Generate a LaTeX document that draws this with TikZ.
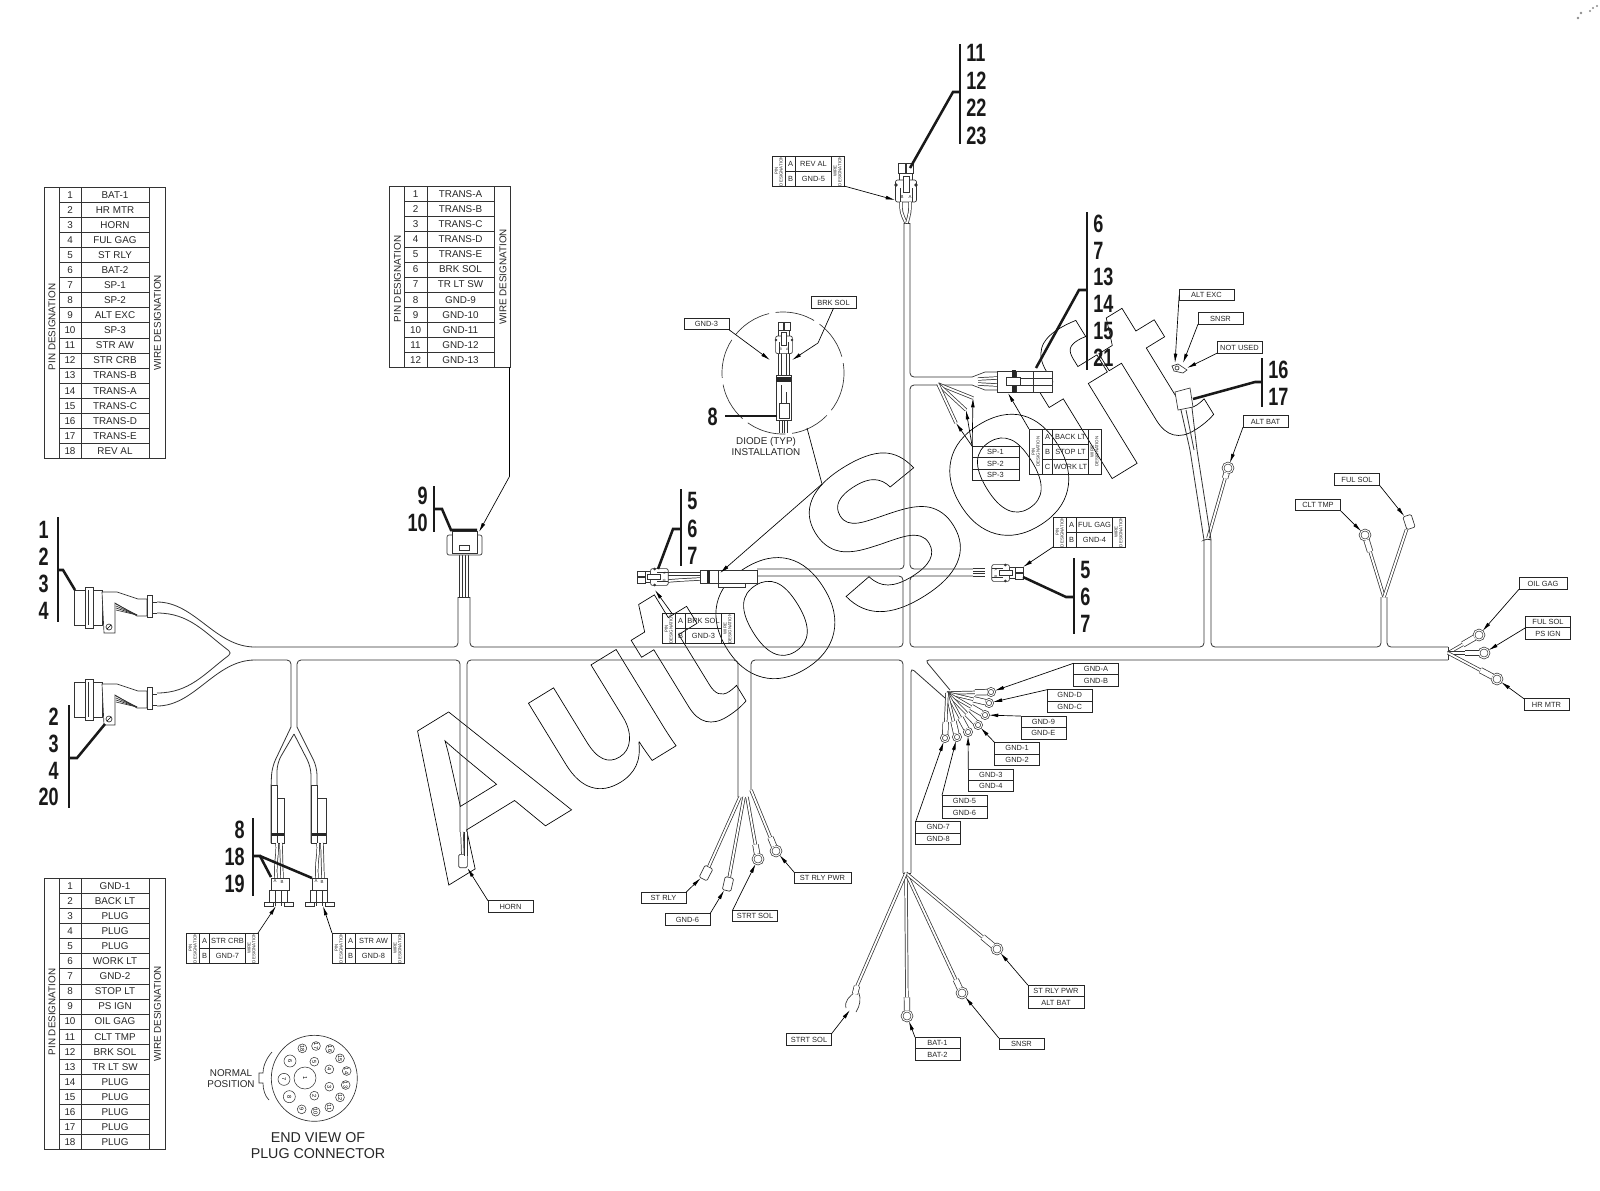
\documentclass[tikz,border=0pt]{standalone}
\usepackage{fontspec}
\setmainfont{Liberation Sans}
\newfontfamily\numfam[FakeStretch=0.72]{Liberation Sans}
\usepackage{tikz}
\usetikzlibrary{positioning,calc,arrows.meta}

\newcommand{\wmfont}{\bfseries\fontsize{161}{161}\selectfont}
\newcommand{\numfont}{\numfam\bfseries\fontsize{18.8}{20}\selectfont}
\newcommand{\tabfont}{\fontsize{7.4}{8.5}\selectfont}
\newcommand{\tagfont}{\fontsize{5.6}{6.5}\selectfont}
\newcommand{\tinyfont}{\fontsize{3.3}{3.6}\selectfont}

\tikzset{
	harn/.style={line width=0.6pt,draw=black!80,rounded corners=3pt},
	part/.style={line width=0.5pt,draw=black!80,fill=white},
	cable/.style={line width=0.55pt,double=white,double distance=1.4pt,draw=black!80},
	barrel/.style={line width=0.55pt,double=white,double distance=3.6pt,draw=black!80},
	bar/.style={line width=1.9pt,draw=black!90},
	lead/.style={line width=0.5pt,-{Latex[length=7pt,width=2.8pt]}},
	tag/.style={draw=black!85,line width=0.5pt,minimum width=33.75pt,minimum height=8.6pt,inner sep=0pt,outer sep=0pt,font=\tagfont,text=black!85},
	ring/.style={circle,draw=black!80,line width=0.5pt,double=white,double distance=0.8pt,fill=white,minimum size=7.5pt,inner sep=0pt},
	smallring/.style={ring,minimum size=5.4pt},
	spade/.style={draw=black!80,line width=0.5pt,fill=white,rounded corners=1pt,minimum width=6.5pt,minimum height=10pt,inner sep=0pt},
	cell/.style={inner sep=0pt,font=\tabfont,text=black!85},
	lettr/.style={inner sep=0pt,font=\tagfont,text=black!85},
	tiny/.style={inner sep=0pt,font=\tinyfont,text=black!85,align=center},
	numl/.style={inner sep=0pt,font=\numfont,anchor=west,text=black!90},
	numr/.style={inner sep=0pt,font=\numfont,anchor=east,text=black!90},
	pin/.style={circle,draw=black!80,line width=0.4pt,minimum size=6.6pt,inner sep=0pt,font=\fontsize{4.2}{4.6}\selectfont,rotate=-90}
}

\newcommand{\pintab}[6]{
	\draw[line width=0.6pt,draw=black!80] (#2,#3) rectangle (#2+121,#3+15.06*#4);
	\draw[line width=0.6pt,draw=black!80] (#2+15,#3) -- (#2+15,#3+15.06*#4);
	\draw[line width=0.6pt,draw=black!80] (#2+37.5,#3) -- (#2+37.5,#3+15.06*#4);
	\draw[line width=0.6pt,draw=black!80] (#2+105,#3) -- (#2+105,#3+15.06*#4);
	\coordinate (#1br) at (#2+120,#3+15.06*#4);
	\node[cell,rotate=90] (#1pin) at (#2+8,#3+7.53*#4+#5) {PIN DESIGNATION};
	\node[cell,rotate=90] (#1wire) at (#2+113.5,#3+7.53*#4) {WIRE DESIGNATION};
	\foreach \w [count=\i] in {#6}{
		\draw[line width=0.6pt,draw=black!80] (#2+15,#3+15.06*\i) -- (#2+105,#3+15.06*\i);
		\node[cell] (#1n\i) at (#2+26,#3+15.06*\i-7.53) {\i};
		\node[cell] (#1w\i) at (#2+71,#3+15.06*\i-7.53) {\w};
	}
}

\newcommand{\plugtab}[5]{
	\draw[line width=0.5pt,draw=black!85] (#1,#2) rectangle (#1+72,#2+15*#4);
	\draw[line width=0.5pt,draw=black!85] (#1+13.5,#2) -- (#1+13.5,#2+15*#4);
	\draw[line width=0.5pt,draw=black!85] (#1+23.5,#2) -- (#1+23.5,#2+15*#4);
	\draw[line width=0.5pt,draw=black!85] (#1+59,#2) -- (#1+59,#2+15*#4);
	\coordinate (#3tl) at (#1,#2);
	\coordinate (#3tr) at (#1+72,#2);
	\coordinate (#3bl) at (#1,#2+15*#4);
	\coordinate (#3br) at (#1+72,#2+15*#4);
	\node[tiny,rotate=90] (#3pin) at (#1+6.7,#2+7.5*#4) {PIN\\DESIGNATION};
	\node[tiny,rotate=90] (#3wire) at (#1+65.5,#2+7.5*#4) {WIRE\\DESIGNATION};
	\foreach \c/\w [count=\i] in {#5}{
		\ifnum\i<#4 \draw[line width=0.5pt,draw=black!85] (#1+13.5,#2+15*\i) -- (#1+59,#2+15*\i);\fi
		\node[lettr] (#3c\i) at (#1+18.5,#2+15*\i-7.5) {\c};
		\node[lettr] (#3w\i) at (#1+41.5,#2+15*\i-7.5) {\w};
	}
}

\newcommand{\plugbody}[4]{
	\begin{scope}[shift={(#1)},#2,transform shape]
		\draw[part] (-7.5,-27) rectangle (-0.5,-17);
		\draw[part] (0.5,-27) rectangle (7.5,-17);
		\draw[part] (-6.5,-17) rectangle (6.5,-10);
		\draw[part,rounded corners=1.5pt] (-10.5,-10) rectangle (10.5,12);
		\draw[part] (-3,-14) rectangle (3,2);
		\draw[part] (-6,-2) -- (-6,12);
		\draw[part] (6,-2) -- (6,12);
		\fill[black!80] (-10,-5) circle (1.8);
		\fill[black!80] (10,-5) circle (1.8);
		\node[tiny] (#4b) at (-4,7) {#3};
		\node[tiny] (#4a) at (4,7) {\ifx#3A B\else A\fi};
	\end{scope}
}

\newcommand{\ringwire}[3]{
	\draw[cable] (#2) -- (#1);
	\draw[barrel] (#1) -- ($(#1)!#3!(#2)$);
}

\begin{document}
\begin{tikzpicture}[x=0.75pt,y=-0.75pt]
	\useasboundingbox (0,0) rectangle (1600,1190);

	\node[rotate=31.5,anchor=base west,inner sep=0pt,font=\wmfont] (autosoft) at (444,888) {\special{pdf:code q 1 Tr 0.5 w}AutoSoft\special{pdf:code Q}};

	\pintab{ta}{44}{187.3}{18}{4}{BAT-1,HR MTR,HORN,FUL GAG,ST RLY,BAT-2,SP-1,SP-2,ALT EXC,SP-3,STR AW,STR CRB,TRANS-B,TRANS-A,TRANS-C,TRANS-D,TRANS-E,REV AL}
	\pintab{tb}{389.5}{186.7}{12}{2}{TRANS-A,TRANS-B,TRANS-C,TRANS-D,TRANS-E,BRK SOL,TR LT SW,GND-9,GND-10,GND-11,GND-12,GND-13}
	\pintab{tc}{44}{878.5}{18}{-2}{GND-1,BACK LT,PLUG,PLUG,PLUG,WORK LT,GND-2,STOP LT,PS IGN,OIL GAG,CLT TMP,BRK SOL,TR LT SW,PLUG,PLUG,PLUG,PLUG,PLUG}

	\plugtab{772}{156}{rv}{2}{A/REV AL,B/GND-5}
	\plugtab{662}{613.5}{bk}{2}{A/BRK SOL,B/GND-3}
	\plugtab{1053}{517}{fl}{2}{A/FUL GAG,B/GND-4}
	\plugtab{1029}{429}{bl}{3}{A/BACK LT,B/STOP LT,C/WORK LT}
	\plugtab{186}{933}{sc}{2}{A/STR CRB,B/GND-7}
	\plugtab{332}{933}{sa}{2}{A/STR AW,B/GND-8}

	\draw[harn] (255,647) -- (458,647) -- (458,597);
	\draw[harn] (470,597) -- (470,647) -- (903,647) -- (903,576) -- (757,576);
	\draw[harn] (757,569) -- (904,569) -- (904,223);
	\draw[harn] (910,223) -- (910,377) -- (972,377);
	\draw[harn] (972,385) -- (910,385) -- (910,569) -- (973,569);
	\draw[harn] (973,576) -- (910,576) -- (910,647) -- (1204,647) -- (1204,540);
	\draw[harn] (1211,540) -- (1211,647) -- (1381,647) -- (1381,597);
	\draw[harn] (1387,597) -- (1387,647) -- (1448,647);
	\draw[harn] (1448,647) -- (1448,660);
	\draw[harn] (1448,660) -- (925,660) -- (950,690);
	\draw[harn] (945,698) -- (911,668) -- (911,873);
	\draw[harn] (903,873) -- (903,660) -- (751,660) -- (751,790);
	\draw[harn] (738,797) -- (738,660) -- (467,660) -- (467,832);
	\draw[harn] (460,832) -- (460,660) -- (297,660) -- (297,727);
	\draw[harn] (291,727) -- (291,660) -- (255,660);
	\draw[harn] (157,602) .. controls (195,602) and (215,647) .. (255,647);
	\draw[harn] (157,613) .. controls (190,613) and (205,633) .. (232,653) .. controls (205,673) and (190,693) .. (157,693);
	\draw[harn] (157,706) .. controls (195,706) and (215,660) .. (255,660);
	\draw[harn] (903,873) -- (911,873);
	\draw[harn] (458,597) -- (470,597);
	\draw[harn] (904,223) -- (910,223);
	\draw[harn] (1204,540) -- (1207,538) -- (1211,540);

	\draw[harn,rounded corners=6pt] (291,727) -- (272,767) -- (271,785) -- (271,843);
	\draw[harn,rounded corners=6pt] (294,734) -- (277,763) -- (277,785) -- (277,798);
	\draw[harn,rounded corners=6pt] (297,727) -- (317,767) -- (317,785) -- (317,798);
	\draw[harn,rounded corners=6pt] (294,734) -- (311,767) -- (311,785) -- (311,843);
	\draw[part] (277,798) rectangle (284,843);
	\draw[part] (317,798) rectangle (326,843);
	\draw[part] (271,785) rectangle (277,843);
	\draw[part] (311,785) rectangle (317,843);
	\fill[black!85] (271,833) rectangle (284,836);
	\fill[black!85] (312,833) rectangle (326,836);
	\draw[cable] (277,843) .. controls (278,855) and (275,860) .. (276,878);
	\draw[cable] (281,843) -- (282,878);
	\draw[cable] (318,843) .. controls (319,855) and (316,860) .. (317,878);
	\draw[cable] (322,843) -- (323,878);
	\draw[part] (271,878) rectangle (289,890);
	\draw[part] (269,890) rectangle (287,902);
	\draw[part] (275,890) -- (275,906);
	\draw[part] (281,890) -- (281,906);
	\draw[part] (264,902) rectangle (273,906);
	\draw[part] (284,902) rectangle (293,906);
	\draw[part] (312,878) rectangle (327,890);
	\draw[part] (310,890) rectangle (327,902);
	\draw[part] (316,890) -- (316,906);
	\draw[part] (322,890) -- (322,906);
	\draw[part] (305,902) rectangle (314,906);
	\draw[part] (325,902) rectangle (334,906);
	\node[tiny] (pla) at (275,881) {A};
	\node[tiny] (plb) at (282,882) {B};
	\node[tiny] (pra) at (316,881) {A};
	\node[tiny] (prb) at (322,882) {B};
	\coordinate (plend) at (276,906);
	\coordinate (prend) at (323,906);

	\foreach \yo in {0,92}{
		\begin{scope}[shift={(0,\yo)}]
			\draw[part] (74,590) rectangle (85,625);
			\draw[part] (85,587) rectangle (93,628);
			\draw[part] (88,590) -- (88,625);
			\draw[part] (93,590) rectangle (102,625);
			\draw[part] (102,592) -- (117,592) -- (138,599) -- (147,599) -- (147,616) -- (137,616) -- (115,603) -- (115,633) -- (104,633) -- cycle;
			\foreach \k in {0,1,2,3}{
				\draw[line width=0.5pt,draw=black!80] (116,604+2*\k) -- (137,615);
			}
			\draw[part] (109,627) circle (3);
			\draw[line width=0.5pt] (107,629) -- (111,625);
			\draw[part] (147,595) rectangle (152,617);
			\draw[part] (152,602) -- (157,602);
			\draw[part] (152,613) -- (157,613);
		\end{scope}
	}

	\draw[cable] (461,555) -- (461,597);
	\draw[cable] (467,555) -- (467,597);
	\draw[part,rounded corners=1.5pt] (447,535) rectangle (482,555);
	\draw[part] (452,531) rectangle (477,553);
	\draw[part] (459,545) rectangle (469,550);

	\plugbody{906,190}{scale=1}{B}{pa}
	\coordinate (paend) at (895,200);
	\draw[cable] (901,202) .. controls (901,212) .. (906,223);
	\draw[cable] (910,202) .. controls (910,212) .. (907,223);

	\draw[line width=0.5pt,draw=black!80,dash pattern=on 30pt off 5pt] (783,373) circle (61);
	\draw[cable] (780,352) -- (780,375);
	\draw[cable] (788,352) -- (788,375);
	\plugbody{784,344}{scale=0.8}{B}{pb}
	\coordinate (pbl) at (770,360);
	\coordinate (pbr) at (792,360);
	\draw[cable] (781,420) -- (781,433);
	\draw[cable] (786,420) -- (786,433);
	\draw[part] (776,375) rectangle (791,420);
	\fill[black!85] (776,377) rectangle (791,382);
	\draw[part] (779,403) rectangle (789,418);
	\draw[part] (781,385) -- (781,403);
	\draw[part] (786,392) -- (786,403);

	\draw[cable] (668,574) -- (700,574);
	\draw[cable] (668,581) .. controls (680,580) .. (700,579);
	\draw[part] (700,570) rectangle (757,583);
	\fill[black!85] (707,570) rectangle (710,583);
	\draw[part] (718,570) -- (718,583);
	\draw[part] (718,583) rectangle (745,587);
	\plugbody{658.6,577}{rotate=90,scale=0.8}{B}{pc}
	\coordinate (pcend) at (655,590);
	\coordinate (slv) at (720,573);
	\coordinate (dioa) at (807,428);
	\coordinate (diob) at (822,484);

	\draw[cable] (973,570) -- (985,570);
	\draw[cable] (973,575) -- (985,575);
	\plugbody{1001.4,573}{rotate=-90,scale=0.8}{A}{pd}
	\coordinate (pdend) at (1023,567);

	\draw[line width=0.5pt,draw=black!80] (972,377) -- (985,372) -- (997,372);
	\draw[line width=0.5pt,draw=black!80] (972,385) -- (985,390) -- (997,390);
	\draw[cable] (978,379) -- (997,378);
	\draw[cable] (978,384) -- (997,385);
	\draw[part] (997,371) rectangle (1012,392);
	\draw[part] (1016,371) rectangle (1052,392);
	\fill[black!85] (1012,370) rectangle (1016,393);
	\draw[part] (1006,377) rectangle (1020,385);
	\draw[part] (1033,371) -- (1033,392);
	\draw[part] (1020,378) -- (1052,378);
	\draw[part] (1020,385) -- (1052,385);
	\coordinate (pwend) at (1008,393);

	\coordinate (fanc) at (938,384);
	\coordinate (spa) at (973,398);
	\coordinate (spb) at (966,410);
	\coordinate (spc) at (956,423);
	\draw[cable] (fanc) -- (spa);
	\draw[cable] (fanc) -- (spb);
	\draw[cable] (fanc) -- (spc);

	\foreach \x/\y [count=\i] in {991/692,989/703,985/715,978/725,968/732,957/737,945/738}{
		\node[smallring] (r\i) at (\x,\y) {};
	}
	\coordinate (fang) at (947,693);
	\foreach \i in {1,...,7}{
		\ringwire{r\i}{fang}{12pt}
	}

	\coordinate (fanb) at (906,873);
	\node[ring] (rbat) at (907,1016) {};
	\node[ring] (rsn) at (962,993) {};
	\node[ring] (rpw) at (997,949) {};
	\ringwire{rbat}{fanb}{14pt}
	\ringwire{rsn}{fanb}{11pt}
	\ringwire{rpw}{fanb}{14pt}
	\coordinate (forkb) at (857,986);
	\coordinate (forkt) at (850,1010);
	\draw[cable] (fanb) -- (forkb);
	\draw[part,fill=none] (846,1008) .. controls (844,1001) and (850,996) .. (855,992);
	\draw[part,fill=none] (856,1012) .. controls (860,1006) and (861,999) .. (859,993);
	\draw[barrel] (857,986) -- (855,994);

	\coordinate (fanl) at (744,797);
	\node[ring] (rso) at (758,859) {};
	\node[ring] (rrp) at (776,851) {};
	\node[spade,rotate=-27] (srly) at (706,873) {};
	\node[spade,rotate=-13] (sgnd) at (728,884) {};
	\draw[cable] (740,797) -- (srly);
	\draw[cable] (744,797) -- (sgnd);
	\draw[cable] (747,797) -- (rso);
	\draw[cable] (751,790) -- (rrp);
	\draw[barrel] (rso) -- ($(rso)!11pt!(747,797)$);
	\draw[barrel] (rrp) -- ($(rrp)!11pt!(751,790)$);

	\coordinate (fanh) at (463,832);
	\node[spade] (shorn) at (463,861) {};
	\draw[cable] (462,832) -- (shorn);
	\draw[cable] (466,832) -- (466,856);

	\coordinate (yfan) at (1384,597);
	\node[ring] (rclt) at (1365,535) {};
	\node[spade,rotate=18] (sful) at (1409,522) {};
	\ringwire{rclt}{yfan}{13pt}
	\draw[cable] (yfan) -- (sful);

	\coordinate (rfan) at (1448,653);
	\node[ring] (roil) at (1479,635) {};
	\node[ring] (rful) at (1484,653) {};
	\node[ring] (rhr) at (1497,679) {};
	\ringwire{roil}{rfan}{14pt}
	\ringwire{rful}{rfan}{14pt}
	\ringwire{rhr}{rfan}{14pt}

	\draw[part] (1172,366) -- (1178,364) -- (1187,370) -- (1183,373) -- (1174,371) -- cycle;
	\node[part,circle,minimum size=3pt,inner sep=0pt] (stud) at (1177,368) {};
	\coordinate (alta) at (1175,363);
	\coordinate (altb) at (1183,363);
	\coordinate (altc) at (1187,368);
	\node[ring] (ralt) at (1228,468) {};
	\coordinate (altfan) at (1208,538);
	\ringwire{ralt}{altfan}{8pt}
	\draw[harn] (1181,410) -- (1190,450) -- (1204,540);
	\draw[harn] (1192,408) -- (1197,450) -- (1211,540);
	\draw[harn] (1186,410) -- (1194,450);
	\draw[part] (1175,392) -- (1190,388) -- (1193,407) -- (1178,410) -- cycle;

	\node[tag] (gndt) at (706.5,324) {GND-3};
	\node[tag] (brks) at (833.5,302.5) {BRK SOL};
	\node[tag,minimum width=41pt] (altexc) at (1206.5,295) {ALT EXC};
	\node[tag] (snsr) at (1220.5,318.5) {SNSR};
	\node[tag] (notused) at (1239.5,347.5) {NOT USED};
	\node[tag] (altbat) at (1265.5,421.5) {ALT BAT};
	\node[tag,minimum width=35pt] (sptop) at (995.5,452) {SP-1};
	\node[tag,below=0pt of sptop,minimum width=35pt] (spmid) {SP-2};
	\node[tag,below=0pt of spmid,minimum width=35pt] (spbot) {SP-3};
	\node[tag] (fulsol) at (1357,479.5) {FUL SOL};
	\node[tag] (clttmp) at (1318,505) {CLT TMP};
	\node[tag,minimum width=36pt] (oilgag) at (1543,583.5) {OIL GAG};
	\node[tag] (fulsolb) at (1548,622) {FUL SOL};
	\node[tag,below=0pt of fulsolb] (psign) {PS IGN};
	\node[tag] (hrmtr) at (1546.5,704.5) {HR MTR};
	\node[tag,minimum width=42.5pt] (srpw) at (822.5,878) {ST RLY PWR};
	\node[tag] (srlyt) at (663.5,898) {ST RLY};
	\node[tag] (gndsx) at (687.5,919.5) {GND-6};
	\node[tag] (srts) at (755,916) {STRT SOL};
	\node[tag] (srtb) at (809,1039.5) {STRT SOL};
	\node[tag] (bata) at (937.5,1043) {BAT-1};
	\node[tag,below=0pt of bata] (batb) {BAT-2};
	\node[tag] (snsb) at (1021.5,1044) {SNSR};
	\node[tag,minimum width=42pt] (srpb) at (1056,991) {ST RLY PWR};
	\node[tag,below=0pt of srpb,minimum width=42pt] (altbt) {ALT BAT};
	\node[tag] (horn) at (510.5,906.5) {HORN};
	\foreach \a/\b [count=\i from 0] in {A/B,D/C,9/E,1/2,3/4,5/6,7/8}{
		\node[tag] (gu\i) at (1096-26.3*\i,669+26.4*\i) {GND-\a};
		\node[tag,below=0pt of gu\i] (gl\i) {GND-\b};
	}

	\foreach \i [evaluate=\i as \j using int(\i+1)] in {0,...,6}{
		\draw[lead] (gu\i.north west) -- (r\j);
	}
	\draw[lead] (gndt.south east) -- (pbl);
	\draw[lead] (brks.south) -- (818,343) -- (pbr);
	\draw[lead] (altexc.west) -- (alta);
	\draw[lead] (snsr.south west) -- (altb);
	\draw[lead] (notused.south west) -- (altc);
	\draw[lead] (altbat.south west) -- (ralt);
	\draw[lead] (sptop.north west) -- (spa);
	\draw[lead] (sptop.north west) -- (spb);
	\draw[lead] (sptop.north west) -- (spc);
	\draw[lead] (fulsol.south east) -- (sful);
	\draw[lead] (clttmp.south east) -- (rclt);
	\draw[lead] (oilgag.south west) -- (roil);
	\draw[lead] (fulsolb.south west) -- (rful);
	\draw[lead] (hrmtr.north west) -- (rhr);
	\draw[lead] (srpw.north west) -- (rrp);
	\draw[lead] (srlyt.north east) -- (srly);
	\draw[lead] (gndsx.north east) -- (sgnd);
	\draw[lead] (srts.north west) -- (rso);
	\draw[lead] (srtb.north east) -- (forkt);
	\draw[lead] (bata.north west) -- (rbat);
	\draw[lead] (snsb.north west) -- (rsn);
	\draw[lead] (srpb.north west) -- (rpw);
	\draw[lead] (horn.north west) -- (shorn);
	\draw[lead] (rvbr) -- (paend);
	\draw[lead] (bltl) -- (pwend);
	\draw[lead] ($(bktl)+(10,0)$) -- (pcend);
	\draw[lead] (flbl) -- (pdend);
	\draw[lead] (sctr) -- (plend);
	\draw[lead] (satl) -- (prend);
	\draw[lead] (dioa) -- (diob) -- (slv);
	\draw[lead] (tbbr) -- ++(0,109) -- (479,532);

	\node[cell,align=center] (diode) at (766,446.5) {DIODE (TYP)\\INSTALLATION};
	\node[cell,align=center] (normal) at (231,1078.5) {NORMAL\\POSITION};
	\node[inner sep=0pt,align=center,text=black!85,font=\fontsize{10.7}{12}\selectfont] (endview) at (318,1146) {END VIEW OF\\PLUG CONNECTOR};

	\draw[line width=0.5pt,draw=black!80] (314.3,1078.3) circle (43);
	\foreach \x/\y/\t/\s in {433/887/2/6.6,478/860/3/6.6,478/808/4/6.6,433/785/5/6.6,360/783/6/9,342/838/7/9,358/890/8/9,395/928/9/6.6,437/935/10/6.6,478/922/11/6.6,510/892/12/6.6,527/855/13/6.6,530/813/14/6.6,510/775/15/6.6,480/747/16/6.6,438/738/17/6.6,397/745/18/6.6}{
		\node[pin,minimum size=\s pt] (pin\t) at (170+\x/3,800+\y/3) {\t};
	}
	\node[pin,minimum size=16.5pt] (pinone) at (305,1078) {1};
	\draw[line width=0.5pt,draw=black!80] (272,1052) .. controls (265,1060) and (263,1068) .. (263,1073) -- (259,1073) -- (259,1083) -- (263,1083) .. controls (263,1090) and (265,1096) .. (269,1100);

	\draw[bar] (58,517) -- (58,622);
	\foreach \t/\y [count=\i] in {1/530,2/557,3/584,4/611}{
		\node[numr] (cau\i) at (49,\y) {\t};
	}
	\coordinate (caj) at (58,570);
	\coordinate (cap) at (75,590);
	\draw[bar] (caj) -- ++(5,0) -- (cap);

	\draw[bar] (69,705) -- (69,808);
	\foreach \t/\y [count=\i] in {2/717,3/744,4/771,20/797}{
		\node[numr] (cal\i) at (59,\y) {\t};
	}
	\coordinate (clj) at (69,758);
	\coordinate (clp) at (105,724);
	\draw[bar] (clj) -- ++(8,0) -- (clp);

	\draw[bar] (434,486) -- (434,532);
	\node[numr] (cnine) at (428,496) {9};
	\node[numr] (cten) at (428,523) {10};
	\coordinate (ctj) at (434,509);
	\coordinate (ctp) at (451,530);
	\coordinate (ctq) at (477,530);
	\draw[bar] (ctj) -- ++(8,0) -- (ctp) -- (ctq);

	\draw[bar] (960,44) -- (960,144);
	\foreach \t/\y [count=\i] in {11/53,12/81,22/108,23/136}{
		\node[numl] (cre\i) at (966,\y) {\t};
	}
	\coordinate (crj) at (960,92);
	\coordinate (crp) at (910,168);
	\draw[bar] (crj) -- ++(-7,0) -- (crp);

	\draw[bar] (1087,212) -- (1087,370);
	\foreach \t/\y [count=\i] in {6/224,7/251,13/277,14/304,15/331,21/358}{
		\node[numl] (cbk\i) at (1093,\y) {\t};
	}
	\coordinate (cbj) at (1087,290);
	\coordinate (cbp) at (1036,368);
	\draw[bar] (cbj) -- ++(-8,0) -- (cbp);

	\draw[bar] (1262,358) -- (1262,407);
	\node[numl] (csx) at (1268,370) {16};
	\node[numl] (csv) at (1268,397) {17};
	\coordinate (caltj) at (1262,382);
	\coordinate (caltp) at (1193,399);
	\draw[bar] (caltj) -- ++(-7,0) -- (caltp);

	\node[numr] (cdi) at (718,417) {8};
	\coordinate (cdj) at (725,416);
	\coordinate (cdp) at (777,416);
	\draw[bar] (cdj) -- (cdp);

	\draw[bar] (681,489) -- (681,566);
	\foreach \t/\y [count=\i] in {5/501,6/529,7/556}{
		\node[numl] (cfl\i) at (687,\y) {\t};
	}
	\coordinate (cfj) at (681,529);
	\coordinate (cfp) at (658,569);
	\draw[bar] (cfj) -- ++(-8,0) -- (cfp);

	\draw[bar] (1074,558) -- (1074,634);
	\foreach \t/\y [count=\i] in {5/570,6/597,7/624}{
		\node[numl] (cfr\i) at (1080,\y) {\t};
	}
	\coordinate (cgj) at (1074,597);
	\coordinate (cgp) at (1023,577);
	\draw[bar] (cgj) -- ++(-8,0) -- (cgp);

	\draw[bar] (253,818) -- (253,896);
	\foreach \t/\y [count=\i] in {8/830,18/857,19/884}{
		\node[numr] (csc\i) at (245,\y) {\t};
	}
	\coordinate (cpj) at (253,856);
	\coordinate (cpk) at (260,856);
	\coordinate (cpl) at (271,877);
	\coordinate (cpr) at (312,878);
	\draw[bar] (cpj) -- (cpk) -- (cpl);
	\draw[bar] (cpk) -- (cpr);

	\fill[black!45] (1578,18) circle (1.4) (1581,13) circle (1.4) (1590,11) circle (1.2) (1593,8) circle (1.2) (1597,6) circle (1.2);
\end{tikzpicture}
\end{document}
